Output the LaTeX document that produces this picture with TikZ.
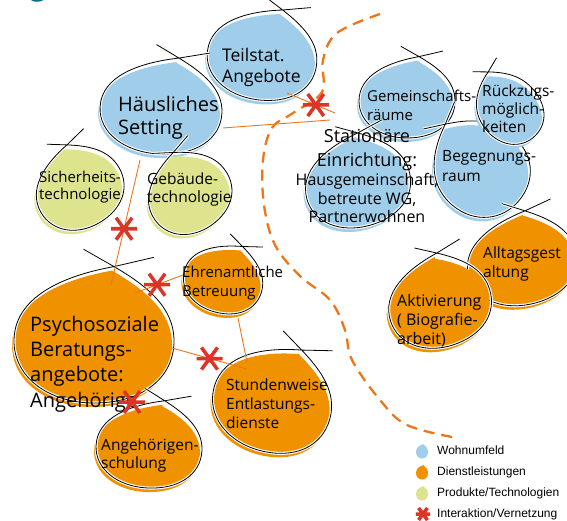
\documentclass[tikz,border=0pt]{standalone}
\usepackage{fontspec}
\setmainfont{Open Sans}
\newfontfamily\legfont{Liberation Sans}

\definecolor{wohnblau}{RGB}{160,206,234}
\definecolor{dienstorange}{RGB}{240,146,0}
\definecolor{produktgruen}{RGB}{222,228,142}
\definecolor{vernetzrot}{RGB}{221,52,40}
\definecolor{linienorange}{RGB}{238,118,24}
\definecolor{titelteal}{RGB}{18,108,140}

\tikzset{
  umriss/.style={draw=black, line width=0.8pt, preaction={draw=white, line width=3pt}},
  verbindung/.style={draw=linienorange, line width=0.9pt},
  grenze/.style={draw=linienorange, line width=2.3pt, dash pattern=on 11pt off 7pt},
  blobtext/.style={align=left, inner sep=0pt, anchor=base west},
  gross/.style={font=\fontsize{20}{24}\selectfont},
  mittel/.style={font=\fontsize{17.5}{21}\selectfont},
  klein/.style={font=\fontsize{15.5}{19}\selectfont},
  legende/.style={inner sep=0pt, anchor=base west, font=\legfont\fontsize{12}{14}\selectfont},
  vernetzung/.pic={
    \draw[vernetzrot, line width=3.5pt] (-13,0) -- (13,0) (-8,-11) -- (8,11) (8,-11) -- (-8,11);
  }
}

% fill of a drop: x, y, rx, ry, rotation, colour
\newcommand{\tropfen}[6]{%
  \begin{scope}[shift={(#1,#2)}, rotate=#5, xscale=#3, yscale=#4]
    \fill[#6] (0.25,-1.2) .. controls (-0.4,-1.05) and (-1,-0.7) .. (-1,0)
      .. controls (-1,0.6) and (-0.55,1) .. (0,1)
      .. controls (0.6,1) and (1,0.6) .. (1,0)
      .. controls (1,-0.55) and (0.65,-0.9) .. cycle;
  \end{scope}}

% drop with sketched outline, crossing at the tip
\newcommand{\blob}[6]{%
  \tropfen{#1-2}{#2+4}{#3}{#4}{#5}{#6}
  \begin{scope}[shift={(#1,#2)}, rotate=#5, xscale=#3, yscale=#4]
    \draw[umriss] (0.75,-1.35) -- (0.25,-1.2)
      .. controls (-0.4,-1.05) and (-1,-0.7) .. (-1,0)
      .. controls (-1,0.6) and (-0.55,1) .. (0,1)
      .. controls (0.6,1) and (1,0.6) .. (1,0)
      .. controls (1,-0.55) and (0.65,-0.9) .. (0.25,-1.2) -- (-0.13,-1.48);
  \end{scope}}

\begin{document}
\begin{tikzpicture}[x=1pt,y=-1pt]
\clip (0,0) rectangle (567,521);

% end points of the connections
\coordinate (hs-s) at (140,160);
\coordinate (ps-n) at (111,285);
\coordinate (hs-o) at (223,128);
\coordinate (st-w) at (330,120);
\coordinate (ta-s) at (287,93);
\coordinate (st-nw) at (335,113);
\coordinate (ps-no) at (135,293);
\coordinate (eb-w) at (183,275);
\coordinate (ps-o) at (172,348);
\coordinate (sw-nw) at (247,369);
\coordinate (eb-s) at (238,318);
\coordinate (sw-n) at (247,362);

% drops
\blob{262}{58}{55}{42}{-8}{wohnblau}
\blob{161}{110}{61}{44}{-3}{wohnblau}
\blob{80}{190}{45}{38}{30}{produktgruen}
\blob{190}{195}{43}{37}{35}{produktgruen}
\blob{94}{341}{80}{62}{0}{dienstorange}
\blob{223}{281}{40}{32}{-15}{dienstorange}
\blob{272}{403}{60}{49}{-15}{dienstorange}
\blob{149}{448}{53}{40}{-3}{dienstorange}
\blob{407}{101}{48}{37}{0}{wohnblau}
\blob{358}{185}{53}{42}{15}{wohnblau}
\blob{482}{170}{46}{48}{50}{wohnblau}
\blob{510}{110}{31}{36}{40}{wohnblau}
\blob{522}{263}{55}{42}{12}{dienstorange}
\blob{440}{305}{52}{42}{18}{dienstorange}

% connections
\draw[verbindung] (hs-s) -- coordinate[pos=0.55] (x1) (ps-n);
\draw[verbindung] (hs-o) -- (st-w);
\draw[verbindung] (ta-s) -- coordinate[pos=0.6] (x2) (st-nw);
\draw[verbindung] (ps-no) -- coordinate[pos=0.46] (x3) (eb-w);
\draw[verbindung] (ps-o) -- coordinate[pos=0.5] (x4) (sw-nw);
\draw[verbindung] (eb-s) -- (sw-n);
\coordinate (x5) at (132,402);

% boundary of the stationary setting
\draw[grenze] plot[smooth, tension=0.6] coordinates {(380,14) (337,33) (323,60) (322,92) (293,113) (272,128) (263,160) (264,205) (275,245) (300,276) (330,300) (345,330) (352,360) (380,400) (407,425) (457,438)};

% texts (base = last line)
\node[blobtext, text=titelteal, font=\bfseries\fontsize{28}{30}\selectfont] (titel) at (30,-4) {g,};
\node[blobtext, mittel] (ta) at (222,83) {Teilstat.\\Angebote};
\node[blobtext, font=\fontsize{20}{23}\selectfont] (hs) at (118,135) {Häusliches\\Setting};
\node[blobtext, font=\fontsize{15}{17}\selectfont] (sicher) at (39,200) {Sicherheits-\\technologie};
\node[blobtext, font=\fontsize{15.5}{18}\selectfont] (gebaeude) at (147,203) {Gebäude-\\technologie};
\node[blobtext, font=\fontsize{20}{25.3}\selectfont] (ps) at (30,407) {Psychosoziale\\Beratungs-\\angebote:\\Angehörige};
\node[blobtext, font=\fontsize{15}{19}\selectfont] (eb) at (182,296) {Ehrenamtliche\\Betreuung};
\node[blobtext, klein] (sw) at (226,428) {Stundenweise\\Entlastungs-\\dienste};
\node[blobtext, font=\fontsize{15.5}{18}\selectfont] (as) at (101,468) {Angehörigen-\\schulung};
\node[blobtext, font=\fontsize{15}{19}\selectfont] (gr) at (367,121) {Gemeinschafts-\\räume};
\node[blobtext, font=\fontsize{15.5}{18}\selectfont] (rm) at (482,133) {Rückzugs-\\möglich-\\keiten};
\node[blobtext, font=\fontsize{15.5}{20}\selectfont] (br) at (442,182) {Begegnungs-\\raum};
\node[inner sep=0pt, anchor=base, align=center, font=\fontsize{18}{24}\selectfont] (st) at (367,167) {Stationäre\\Einrichtung:};
\node[inner sep=0pt, anchor=base, align=center, font=\fontsize{16}{18.5}\selectfont] (st2) at (367,223) {Hausgemeinschaft,\\betreute WG,\\Partnerwohnen};
\node[blobtext, klein] (ag) at (483,277) {Alltagsgest\\altung};
\node[blobtext, font=\fontsize{16}{19}\selectfont] (ak) at (397,344) {Aktivierung\\( Biografie-\\arbeit)};

% interactions
\foreach \k in {x1,x2,x3,x4,x5}
  \pic at (\k) {vernetzung};

% legend
\tropfen{422}{452}{6}{6.5}{0}{wohnblau}
\tropfen{422}{473}{6}{6.5}{0}{dienstorange}
\tropfen{422}{494}{6}{6.5}{0}{produktgruen}
\pic[scale=0.55] at (423,514) {vernetzung};
\node[legende] (l1) at (437,454) {Wohnumfeld};
\node[legende] (l2) at (437,475) {Dienstleistungen};
\node[legende] (l3) at (437,496) {Produkte/Technologien};
\node[legende] (l4) at (437,517) {Interaktion/Vernetzung};
\end{tikzpicture}
\end{document}
